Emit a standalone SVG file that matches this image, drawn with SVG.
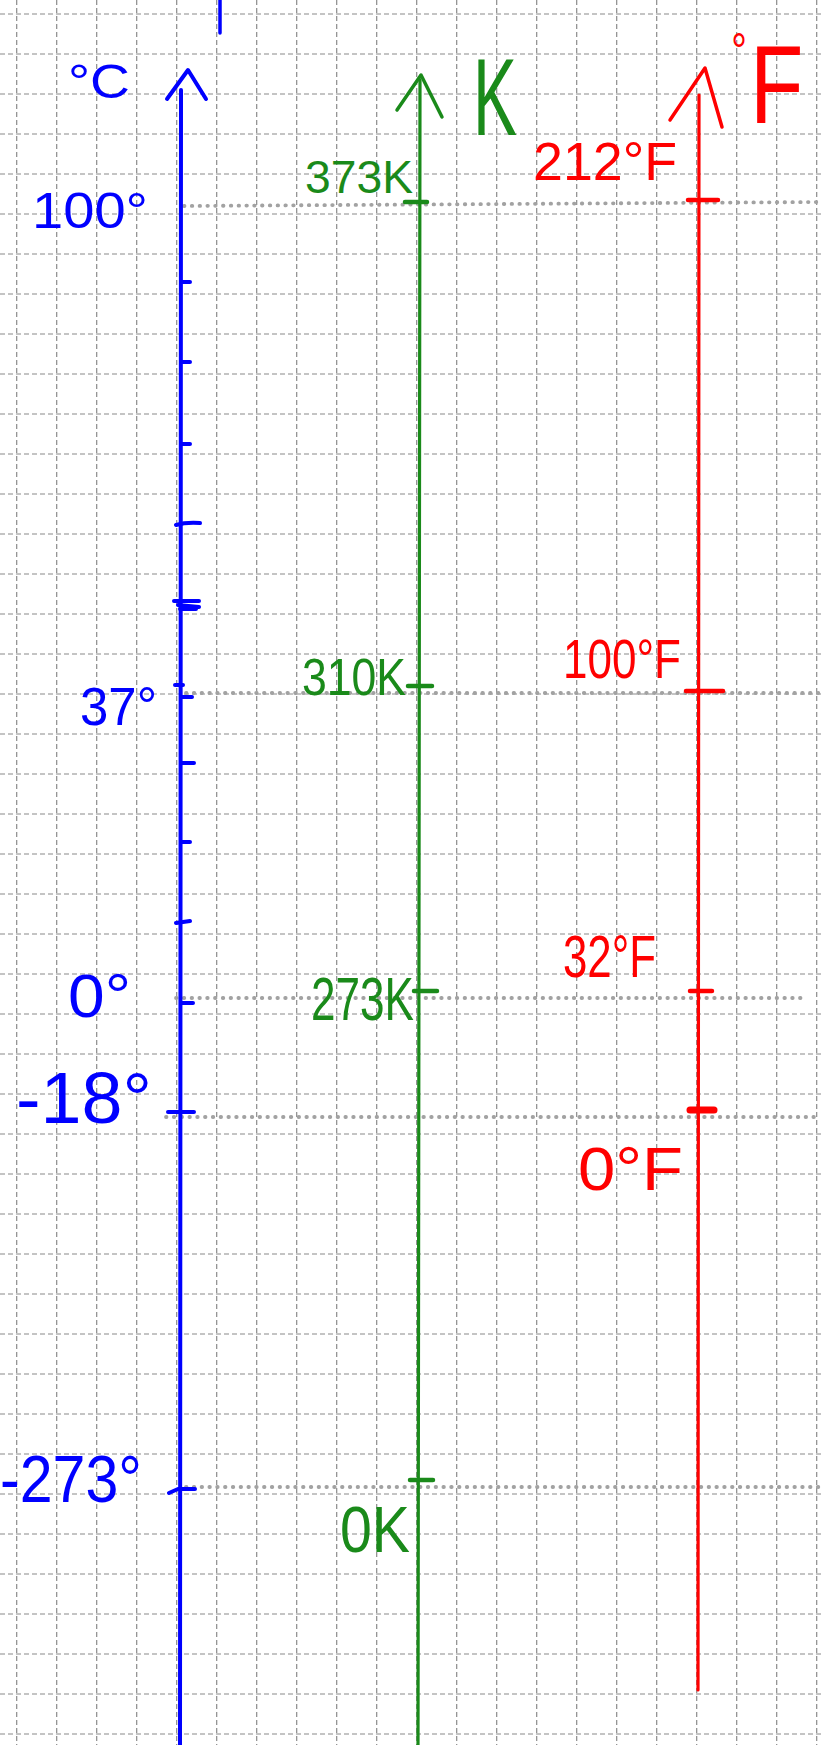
<svg xmlns="http://www.w3.org/2000/svg" width="821" height="1745" viewBox="0 0 821 1745">
<style>
.grid{stroke:#8a8a8a;stroke-width:1.2;stroke-dasharray:5 3;fill:none}
.ref{stroke:#a2a2a2;stroke-width:3.8;stroke-dasharray:0.5 7.3;stroke-linecap:round;fill:none}
.b{stroke:#0000ff;fill:none;stroke-linecap:round;stroke-linejoin:round}
.g{stroke:#1a8a1a;fill:none;stroke-linecap:round;stroke-linejoin:round}
.r{stroke:#ff0000;fill:none;stroke-linecap:round;stroke-linejoin:round}
text{font-family:"Liberation Sans",Arial,sans-serif}
.tb{fill:#0000ff}
.tg{fill:#1a8a1a}
.tr{fill:#ff0000}
</style>
<rect width="821" height="1745" fill="#ffffff"/>
<g id="grid">
<path class="grid" d="M16.7 0V1745M56.7 0V1745M96.7 0V1745M136.7 0V1745M176.7 0V1745M216.7 0V1745M256.7 0V1745M296.7 0V1745M336.7 0V1745M376.7 0V1745M416.7 0V1745M456.7 0V1745M496.7 0V1745M536.7 0V1745M576.7 0V1745M616.7 0V1745M656.7 0V1745M696.7 0V1745M736.7 0V1745M776.7 0V1745M816.7 0V1745"/>
<path class="grid" d="M0 14H821M0 54H821M0 94H821M0 134H821M0 174H821M0 214H821M0 254H821M0 294H821M0 334H821M0 374H821M0 414H821M0 454H821M0 494H821M0 534H821M0 574H821M0 614H821M0 654H821M0 694H821M0 734H821M0 774H821M0 814H821M0 854H821M0 894H821M0 934H821M0 974H821M0 1014H821M0 1054H821M0 1094H821M0 1134H821M0 1174H821M0 1214H821M0 1254H821M0 1294H821M0 1334H821M0 1374H821M0 1414H821M0 1454H821M0 1494H821M0 1534H821M0 1574H821M0 1614H821M0 1654H821M0 1694H821M0 1734H821"/>
</g>
<g id="reference-lines">
<path class="ref" d="M184 206L821 202"/>
<path class="ref" d="M186 693H821"/>
<path class="ref" d="M176 998H801"/>
<path class="ref" d="M166 1117H821"/>
<path class="ref" d="M186 1487H821"/>
</g>
<g id="celsius-axis">
<path class="b" stroke-width="4" d="M181 90L180 1745"/>
<path class="b" stroke-width="4" d="M167 99L188 70L206 99"/>
<path class="b" stroke-width="3.5" d="M220 0V33"/>
<path class="b" stroke-width="4" d="M181 282H190M181 362H190M181 444H190M176 525Q186 522 200 523M174 601H199M178 605L199 607M180 609H196M175 685H183M181 697H192M181 763H194M181 842H190M176 923L190 921M181 1003H193M168 1112H194M169 1493L178 1489H195"/>
<text class="tb" x="68" y="98" font-size="48" textLength="62" lengthAdjust="spacingAndGlyphs">°C</text>
<text class="tb" x="32" y="228" font-size="50" textLength="116" lengthAdjust="spacingAndGlyphs">100°</text>
<text class="tb" x="80" y="725" font-size="54" textLength="77" lengthAdjust="spacingAndGlyphs">37°</text>
<text class="tb" x="68" y="1017" font-size="62" textLength="63" lengthAdjust="spacingAndGlyphs">0°</text>
<text class="tb" x="16" y="1123" font-size="72" textLength="136" lengthAdjust="spacingAndGlyphs">-18°</text>
<text class="tb" x="0" y="1502" font-size="66" textLength="142" lengthAdjust="spacingAndGlyphs">-273°</text>
</g>
<g id="kelvin-axis">
<path class="g" stroke-width="3.2" d="M420 80L418 1745"/>
<path class="g" stroke-width="3.5" d="M397 110L421 75L442 117"/>
<path class="g" stroke-width="4.5" d="M405 202H427M408 686H432M414 991H437M410 1480H433"/>
<text class="tg" x="473" y="135" font-size="110" textLength="44" lengthAdjust="spacingAndGlyphs">K</text>
<text class="tg" x="305" y="193" font-size="46" textLength="108" lengthAdjust="spacingAndGlyphs">373K</text>
<text class="tg" x="302" y="695" font-size="52" textLength="104" lengthAdjust="spacingAndGlyphs">310K</text>
<text class="tg" x="311" y="1020" font-size="62" textLength="103" lengthAdjust="spacingAndGlyphs">273K</text>
<text class="tg" x="340" y="1552" font-size="64" textLength="70" lengthAdjust="spacingAndGlyphs">0K</text>
</g>
<g id="fahrenheit-axis">
<path class="r" stroke-width="3.2" d="M699 95L698 1690"/>
<path class="r" stroke-width="3.5" d="M670 120L705 68L722 127"/>
<path class="r" stroke-width="4.5" d="M688 200H718M686 691H723M690 991H712"/>
<path class="r" stroke-width="7" d="M690 1110H714"/>
<text class="tr" transform="translate(757 123) scale(0.78 1)" font-size="112"><tspan x="-33" y="-55" font-size="50">°</tspan><tspan x="-9" y="0">F</tspan></text>
<text class="tr" x="533" y="180" font-size="54" textLength="144" lengthAdjust="spacingAndGlyphs">212°F</text>
<text class="tr" x="563" y="678" font-size="56" textLength="118" lengthAdjust="spacingAndGlyphs">100°F</text>
<text class="tr" x="563" y="977" font-size="60" textLength="93" lengthAdjust="spacingAndGlyphs">32°F</text>
<text class="tr" x="578" y="1190" font-size="62" textLength="105" lengthAdjust="spacingAndGlyphs">0°F</text>
</g>
</svg>
